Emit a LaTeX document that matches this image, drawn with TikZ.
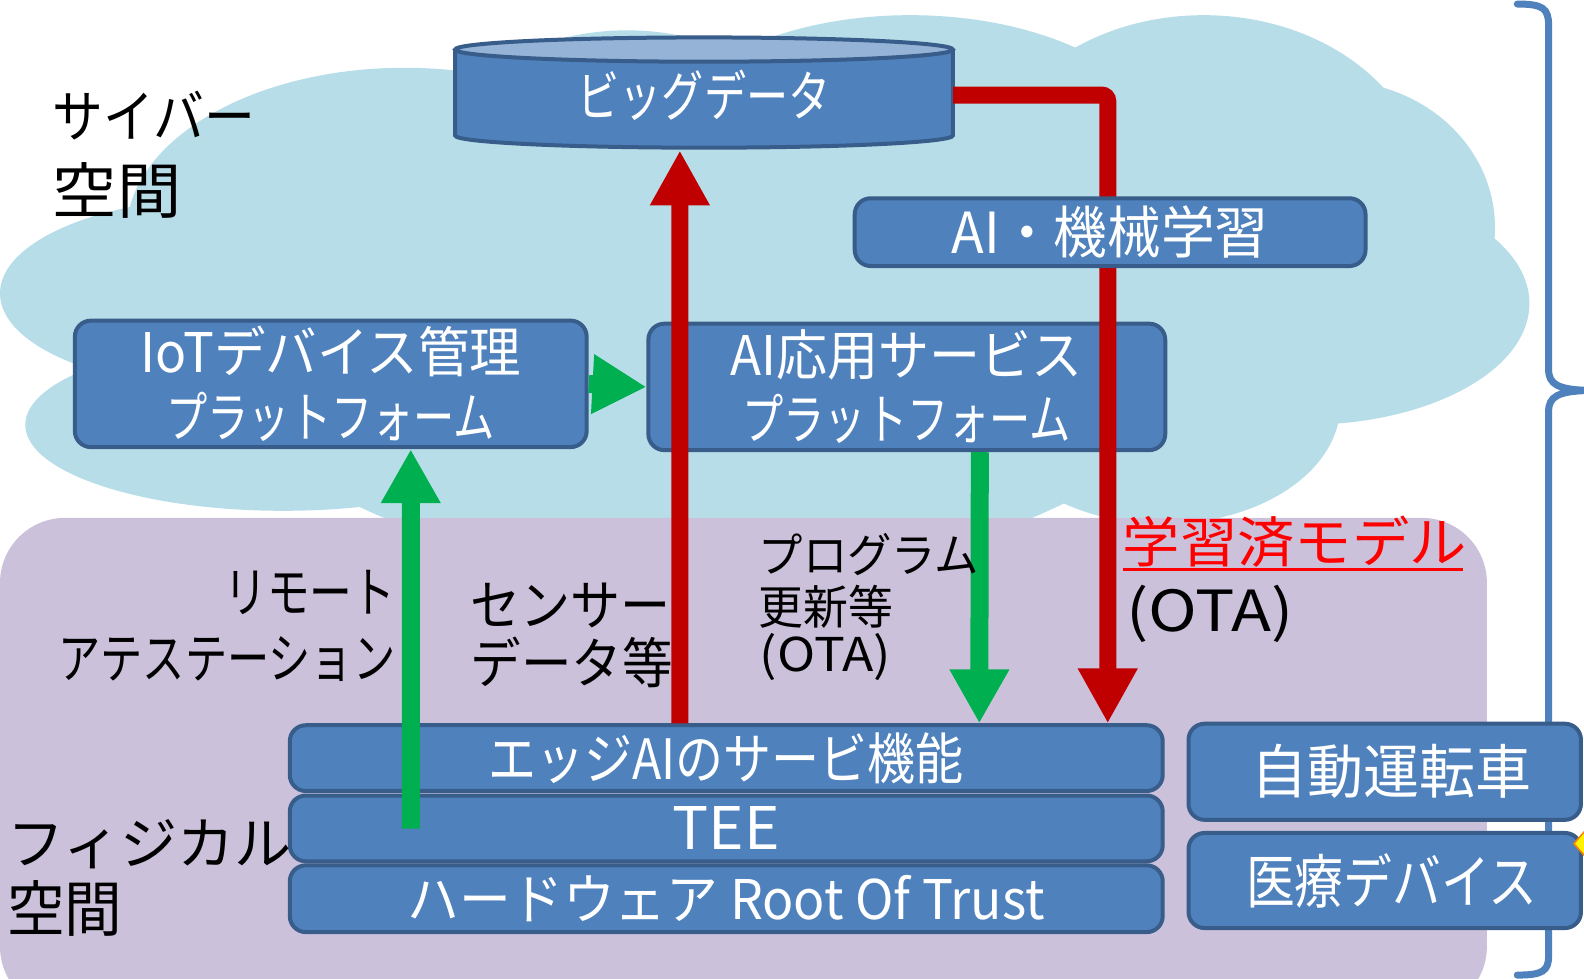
\documentclass[tikz,border=0pt]{standalone}
\usepackage{fontspec}
\usepackage{graphicx}
\setmainfont{Noto Sans CJK JP}
\usetikzlibrary{arrows.meta}
\definecolor{cloudc}{HTML}{B7DEE8}
\definecolor{purplec}{HTML}{CCC1DA}
\definecolor{boxfill}{HTML}{4F81BD}
\definecolor{boxline}{HTML}{385D8A}
\definecolor{toplight}{HTML}{95B3D7}
\definecolor{redarr}{HTML}{C00000}
\definecolor{greenarr}{HTML}{00B050}
\definecolor{redtext}{HTML}{FF0000}
\definecolor{bracec}{HTML}{4F81BD}
\newcommand\sz[2]{\fontsize{#1}{#2}\selectfont}
\newcommand\fw[2]{\resizebox{#1pt}{\height}{#2}}
\tikzset{
  bluebox/.style={draw=boxline, fill=boxfill, line width=4pt, rounded corners=16pt, text=white, align=center, inner sep=0pt},
  lbl/.style={inner sep=0pt, text=black},
  redline/.style={draw=redarr, line width=17pt, -{Triangle[width=56pt,length=55pt]}},
  greenline/.style={draw=greenarr, line width=18pt, -{Triangle[width=56pt,length=54pt]}},
}
\begin{document}
\begin{tikzpicture}[x=1pt,y=-1pt,scale=1.0115,transform shape]
\clip (0,0) rectangle (1566,967);
\fill[white] (0,0) rectangle (1566,967);
% cloud
\begin{scope}[fill=cloudc]
\fill (400,230) ellipse[x radius=275, y radius=163];
\fill (230,290) ellipse[x radius=230, y radius=95];
\fill (280,420) ellipse[x radius=255, y radius=85];
\fill (700,320) ellipse[x radius=500, y radius=250];
\fill (620,180) ellipse[x radius=200, y radius=150];
\fill (900,160) ellipse[x radius=260, y radius=145];
\fill (1190,190) ellipse[x radius=220, y radius=175];
\fill (1320,225) ellipse[x radius=158, y radius=145];
\fill (1290,300) ellipse[x radius=222, y radius=120];
\fill (1150,400) ellipse[x radius=175, y radius=118];
\end{scope}
% physical space
\fill[purplec, rounded corners=65pt] (0,512) rectangle (1470,1000);
% brace
\draw[bracec, line width=7pt, line cap=round] (1500,4) .. controls (1525,4) and (1531,8) .. (1531,25) -- (1531,365) .. controls (1531,380) and (1540,385) .. (1570,386) .. controls (1540,387) and (1531,392) .. (1531,407) -- (1531,945) .. controls (1531,960) and (1525,964) .. (1500,964);
% cylinder
\fill[boxfill] (450,49) -- (450,134) arc[start angle=180, end angle=0, x radius=246, y radius=12] -- (942,49) -- cycle;
\draw[boxline, line width=4pt] (450,49) -- (450,134) arc[start angle=180, end angle=0, x radius=246, y radius=12] -- (942,49);
\draw[boxline, fill=toplight, line width=4pt] (696,49) ellipse[x radius=246, y radius=12];
\node[inner sep=0pt, minimum width=492pt, minimum height=109pt, text=white, font=\sz{54}{60}] (bigdata) at (696,94) {\fw{250}{ビッグデータ}};
% boxes
\node[bluebox, minimum width=506pt, minimum height=125pt, font=\sz{54}{65}] (iot) at (327,379.5) {\fw{377}{IoTデバイス管理}\\\fw{325}{プラットフォーム}};
\node[bluebox, minimum width=511pt, minimum height=125pt, font=\sz{54}{63}] (aiapp) at (896.5,382.5) {\fw{348}{AI応用サービス}\\\fw{325}{プラットフォーム}};
\node[bluebox, minimum width=863pt, minimum height=65pt, font=\sz{55}{60}] (edge) at (718,749.5) {\fw{470}{エッジAIのサービ機能}};
\node[bluebox, minimum width=863pt, minimum height=65pt, font=\sz{58}{60}] (tee) at (718,819) {\fw{106}{TEE}};
\node[bluebox, minimum width=863pt, minimum height=66pt, font=\sz{54}{60}] (hw) at (718,888.5) {\fw{630}{ハードウェア Root Of Trust}};
\node[bluebox, minimum width=388pt, minimum height=95pt, font=\sz{58}{60}] (car) at (1369,763) {\hspace*{14pt}\fw{277}{自動運転車}};
\node[bluebox, minimum width=388pt, minimum height=94pt, font=\sz{58}{60}] (med) at (1369,870.5) {\hspace*{14pt}\fw{288}{医療デバイス}};
\fill[yellow, draw=orange, line width=1.5pt] (1570,818) -- (1556,834) -- (1570,850) -- cycle;
% arrows
\draw[greenline] (iot.east) -- (aiapp.west);
\draw[redline] ([xshift=-46pt]edge.north) -- ([xshift=-24pt]bigdata.south);
\draw[redline, rounded corners=6pt] (bigdata.east) -| ([xshift=377pt]edge.north);
\draw[greenline] ([xshift=-312pt]tee.center) -- ([xshift=79pt]iot.south);
\draw[greenline] ([xshift=72pt]aiapp.south) -- ([xshift=250pt]edge.north);
% AI ML box on top of the red line
\node[bluebox, minimum width=505pt, minimum height=67pt, font=\sz{56}{60}] (aiml) at (1097.5,229.5) {\fw{313}{AI・機械学習}};
% labels
\node[lbl, anchor=base west, font=\sz{56}{60}] (cy1) at (52,136) {\fw{200}{サイバー}};
\node[lbl, anchor=base west, font=\sz{60}{60}] (cy2) at (52,211) {\fw{127}{空間}};
\node[lbl, anchor=base east, font=\sz{54}{60}] (ra1) at (391,606) {\fw{169}{リモート}};
\node[lbl, anchor=base east, font=\sz{54}{60}] (ra2) at (391,671) {\fw{333}{アテステーション}};
\node[lbl, anchor=base west, font=\sz{54}{60}] (sd1) at (465,618) {\fw{198}{センサー}};
\node[lbl, anchor=base west, font=\sz{54}{60}] (sd2) at (465,676) {\fw{200}{データ等}};
\node[lbl, anchor=base west, font=\sz{46}{50}] (pg1) at (750,566) {\fw{218}{プログラム}};
\node[lbl, anchor=base west, font=\sz{46}{50}] (pg2) at (750,617) {\fw{133}{更新等}};
\node[lbl, anchor=base west, font=\sz{46}{50}] (pg3) at (751,664) {\fw{130}{(OTA)}};
\node[lbl, anchor=base west, text=redtext, font=\sz{54}{60}] (lm1) at (1110,556) {\fw{340}{学習済モデル}};
\draw[redtext, line width=3pt] ([yshift=-6.5pt]lm1.base west) -- ++(336,0);
\node[lbl, anchor=base west, font=\sz{56}{60}] (lm2) at (1113,624) {\fw{166}{(OTA)}};
\node[lbl, anchor=base west, font=\sz{56}{60}] (ph1) at (7,855) {\fw{281}{フィジカル}};
\node[lbl, anchor=base west, font=\sz{60}{60}] (ph2) at (7,921) {\fw{114}{空間}};
\end{tikzpicture}
\end{document}
